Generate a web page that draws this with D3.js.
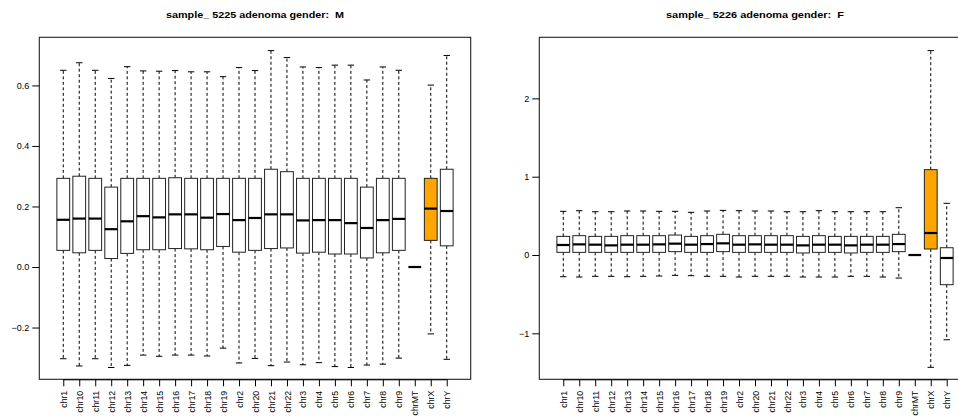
<!DOCTYPE html>
<html>
<head>
<meta charset="utf-8">
<script src="https://cdn.jsdelivr.net/npm/d3@7"></script>
<style>
  html, body { margin: 0; padding: 0; background: #fff; }
  svg { display: block; font-family: "Liberation Sans", Arial, Helvetica, sans-serif; }
</style>
</head>
<body>
<svg id="chart" width="958" height="416"></svg>
<script>
// ---------------- data ----------------
const categories = ["chr1","chr10","chr11","chr12","chr13","chr14","chr15","chr16","chr17","chr18","chr19",
  "chr2","chr20","chr21","chr22","chr3","chr4","chr5","chr6","chr7","chr8","chr9","chrMT","chrX","chrY"];

// Panel 1: sample 5225 (M)
const p1Title = "sample_ 5225 adenoma gender:  M";
const p1LowerWhisker = [-0.303,-0.327,-0.303,-0.332,-0.325,-0.291,-0.295,-0.291,-0.291,-0.294,-0.268,
  -0.317,-0.302,-0.326,-0.314,-0.323,-0.316,-0.329,-0.332,-0.324,-0.321,-0.301,0,-0.221,-0.305];
const p1Q1 = [0.055,0.047,0.055,0.028,0.045,0.057,0.057,0.061,0.060,0.057,0.068,
  0.049,0.055,0.061,0.063,0.046,0.049,0.043,0.043,0.030,0.047,0.055,0,0.088,0.070];
const p1Median = [0.156,0.160,0.160,0.125,0.151,0.168,0.164,0.174,0.174,0.163,0.175,
  0.155,0.162,0.174,0.174,0.154,0.155,0.155,0.145,0.129,0.155,0.159,0,0.193,0.185];
const p1Q3 = [0.293,0.300,0.293,0.264,0.293,0.293,0.293,0.295,0.293,0.293,0.293,
  0.293,0.293,0.323,0.315,0.293,0.293,0.293,0.293,0.264,0.293,0.293,0,0.293,0.323];
const p1UpperWhisker = [0.650,0.675,0.650,0.623,0.662,0.648,0.647,0.649,0.645,0.645,0.629,
  0.659,0.649,0.715,0.692,0.661,0.659,0.667,0.667,0.618,0.661,0.650,0,0.601,0.699];
const p1YDomain = [-0.371, 0.759];
const p1YTicks = [-0.2, 0.0, 0.2, 0.4, 0.6];

// Panel 2: sample 5226 (F)
const p2Title = "sample_ 5226 adenoma gender:  F";
const p2LowerWhisker = [-0.277,-0.281,-0.272,-0.272,-0.277,-0.272,-0.268,-0.260,-0.264,-0.272,-0.272,
  -0.281,-0.272,-0.272,-0.272,-0.281,-0.281,-0.281,-0.272,-0.272,-0.281,-0.294,0,-1.434,-1.082];
const p2Q1 = [0.034,0.034,0.034,0.034,0.034,0.034,0.034,0.043,0.034,0.034,0.043,
  0.034,0.034,0.034,0.034,0.026,0.034,0.034,0.026,0.034,0.034,0.043,0,0.077,-0.379];
const p2Median = [0.128,0.136,0.132,0.123,0.132,0.132,0.136,0.145,0.132,0.140,0.149,
  0.132,0.136,0.132,0.132,0.123,0.132,0.132,0.123,0.132,0.132,0.140,0,0.281,-0.038];
const p2Q3 = [0.238,0.247,0.238,0.238,0.247,0.247,0.247,0.255,0.238,0.247,0.264,
  0.247,0.247,0.247,0.247,0.238,0.247,0.238,0.238,0.238,0.238,0.264,0,1.090,0.093];
const p2UpperWhisker = [0.558,0.566,0.553,0.553,0.562,0.562,0.558,0.558,0.545,0.562,0.570,
  0.566,0.562,0.562,0.553,0.553,0.566,0.553,0.553,0.553,0.553,0.604,0,2.610,0.660];
const p2YDomain = [-1.587, 2.78];
const p2YTicks = [-1, 0, 1, 2];

const fillColors = categories.map(c => c === "chrX" ? "#FFA500" : "#FFFFFF");

// ---------------- drawing ----------------
const svg = d3.select("#chart");
const FONT = '"Liberation Sans", Arial, sans-serif';

function panel(opts) {
  const { left, right, top, bottom, title, lw, q1, med, q3, uw, yDomain, yTicks, yFormat } = opts;
  const g = svg.append("g");
  const n = categories.length;
  // R boxplot: xlim = (0.5, n + 0.5), extended 4% each side
  const x = d3.scaleLinear().domain([-0.5, n + 1.5]).range([left, right]);
  const y = d3.scaleLinear().domain(yDomain).range([bottom, top]);
  const step = x(1) - x(0);
  const boxW = 0.8 * step;
  const stapleW = boxW / 2;

  const data = categories.map((c, i) => ({
    c, i, pos: i + 1, lw: lw[i], q1: q1[i], med: med[i], q3: q3[i], uw: uw[i], fill: fillColors[i]
  }));

  const items = g.selectAll("g.box").data(data).join("g").attr("class", "box");
  const degenerate = d => d.q1 === d.q3 && d.lw === d.uw;
  const full = items.filter(d => !degenerate(d));

  // whiskers (dashed)
  full.append("line")
    .attr("x1", d => x(d.pos)).attr("x2", d => x(d.pos))
    .attr("y1", d => y(d.q3)).attr("y2", d => y(d.uw))
    .attr("stroke", "#000").attr("stroke-width", 1).attr("stroke-dasharray", "3,2.5");
  full.append("line")
    .attr("x1", d => x(d.pos)).attr("x2", d => x(d.pos))
    .attr("y1", d => y(d.q1)).attr("y2", d => y(d.lw))
    .attr("stroke", "#000").attr("stroke-width", 1).attr("stroke-dasharray", "3,2.5");
  // staples
  full.append("line")
    .attr("x1", d => x(d.pos) - stapleW / 2).attr("x2", d => x(d.pos) + stapleW / 2)
    .attr("y1", d => y(d.uw)).attr("y2", d => y(d.uw))
    .attr("stroke", "#000").attr("stroke-width", 1);
  full.append("line")
    .attr("x1", d => x(d.pos) - stapleW / 2).attr("x2", d => x(d.pos) + stapleW / 2)
    .attr("y1", d => y(d.lw)).attr("y2", d => y(d.lw))
    .attr("stroke", "#000").attr("stroke-width", 1);
  // box
  full.append("rect")
    .attr("x", d => x(d.pos) - boxW / 2).attr("width", boxW)
    .attr("y", d => y(d.q3)).attr("height", d => y(d.q1) - y(d.q3))
    .attr("fill", d => d.fill).attr("stroke", "#222").attr("stroke-width", 1);
  // median
  items.append("line")
    .attr("x1", d => x(d.pos) - boxW / 2).attr("x2", d => x(d.pos) + boxW / 2)
    .attr("y1", d => y(d.med)).attr("y2", d => y(d.med))
    .attr("stroke", "#000").attr("stroke-width", 2.2);

  // plot frame
  g.append("rect")
    .attr("x", left).attr("y", top).attr("width", right - left).attr("height", bottom - top)
    .attr("fill", "none").attr("stroke", "#222").attr("stroke-width", 1.1);

  // y axis
  const yAxis = d3.axisLeft(y).tickValues(yTicks).tickFormat(yFormat).tickSizeInner(7).tickSizeOuter(0).tickPadding(3);
  const ya = g.append("g").attr("transform", `translate(${left},0)`).call(yAxis);
  ya.select(".domain").remove();
  ya.selectAll("text").attr("font-size", 9).attr("fill", "#000").style("font-family", FONT);
  ya.selectAll("line").attr("stroke", "#000");

  // x axis
  const xAxis = d3.axisBottom(x).tickValues(data.map(d => d.pos))
    .tickFormat(v => categories[v - 1]).tickSizeInner(7).tickSizeOuter(0).tickPadding(4);
  const xa = g.append("g").attr("transform", `translate(0,${bottom})`).call(xAxis);
  xa.select(".domain").remove();
  xa.append("line").attr("x1", x(1)).attr("x2", x(n)).attr("y1", 0.5).attr("y2", 0.5).attr("stroke", "#000");
  xa.selectAll("line").attr("stroke", "#000");
  xa.selectAll("text")
    .attr("font-size", 8.7).attr("fill", "#000")
    .style("font-family", FONT)
    .attr("transform", "rotate(-90)")
    .attr("x", -11.5).attr("y", 0).attr("dy", "0.35em")
    .attr("text-anchor", "end");

  // title
  g.append("text")
    .attr("x", (left + right) / 2).attr("y", 17.5)
    .attr("text-anchor", "middle")
    .attr("font-size", 9.5).attr("font-weight", "bold")
    .attr("textLength", 178).attr("lengthAdjust", "spacingAndGlyphs")
    .style("white-space", "pre")
    .attr("xml:space", "preserve")
    .text(title);
}

panel({
  left: 39.3, right: 470.7, top: 37.3, bottom: 379.3, title: p1Title,
  lw: p1LowerWhisker, q1: p1Q1, med: p1Median, q3: p1Q3, uw: p1UpperWhisker,
  yDomain: p1YDomain, yTicks: p1YTicks, yFormat: d3.format(".1f")
});
panel({
  left: 539.3, right: 970.7, top: 37.3, bottom: 379.3, title: p2Title,
  lw: p2LowerWhisker, q1: p2Q1, med: p2Median, q3: p2Q3, uw: p2UpperWhisker,
  yDomain: p2YDomain, yTicks: p2YTicks, yFormat: d3.format("d")
});
</script>
</body>
</html>
